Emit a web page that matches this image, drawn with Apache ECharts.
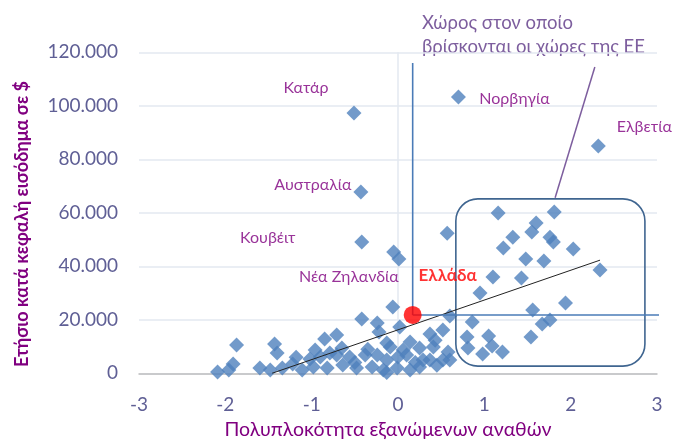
<!DOCTYPE html>
<html><head><meta charset="utf-8">
<script src="https://cdn.jsdelivr.net/npm/echarts@6/dist/echarts.min.js"></script>
<style>html,body{margin:0;padding:0;background:#fff}#c{width:677px;height:441px}</style>
</head><body><div id="c"></div>
<script>
// ---- data ----
const xTickValues = [-3, -2, -1, 0, 1, 2, 3];
const yTickValues = [0, 20000, 40000, 60000, 80000, 100000, 120000];

// other countries (complexity, income per capita)
const otherX = [
  -0.05, 0.57, 1.16, 1.81, 1.60, 1.55, 1.33, 1.22, 1.76, 1.80, 2.03, 1.48, 1.69, 2.34,
  1.10, 1.43, 0.95, 1.94, 1.56, 1.67, 1.76, 1.54, 1.05, -0.06, 0.60, 0.86, 0.52, 0.37,
  0.43, 0.80, 1.09, 0.98, 1.21, 0.81, 0.58, 0.52, 0.37, 0.25, 0.14, 0.25, 0.41, 0.06,
  -0.13, -0.42, -0.24, -0.22, 0.02, -0.71, -0.85, -0.09, -0.90, -0.71, -0.56, -0.38, -0.24,
  -0.13, 0.00, 0.10, -0.98, -0.82, -0.64, -0.48, -0.30, -0.17, -0.01, 0.14, -0.13, -0.79,
  -1.87, -2.09, -1.91, -1.96, -1.60, -1.43, -1.40, -1.48, -1.34, -1.22, -1.11, -1.02, -0.96,
  0.29, 0.60, -0.50, -0.35, 0.20, -0.65, -1.18, 0.45
];
const otherY = [
  45300, 52400, 59900, 60300, 56200, 52800, 50900, 46800, 50900, 49100, 46500, 42700, 42000, 38600,
  36000, 35600, 30000, 26300, 23700, 18400, 19900, 13600, 13900, 24800, 21400, 19200, 16200, 14700,
  12400, 13600, 10200, 7200, 8000, 9500, 8000, 5000, 5000, 2400, 11700, 9500, 9800, 8700,
  11300, 20300, 18800, 15400, 17300, 14300, 12800, 9800, 6100, 6800, 6100, 6800, 6800,
  5000, 6100, 6800, 2400, 2000, 3100, 2000, 2400, 1200, 2000, 1200, 300, 7600,
  10600, 500, 3500, 1200, 2000, 11000, 7600, 1200, 2000, 3500, 1200, 5300, 8700,
  5000, 5000, 4000, 9000, 4000, 9500, 6000, 3000
];

// labelled countries
const namedNames = ['Κατάρ', 'Νορβηγία', 'Ελβετία', 'Αυστραλία', 'Κουβέιτ', 'Νέα Ζηλανδία'];
const namedX = [-0.51, 0.70, 2.32, -0.43, -0.42, 0.01];
const namedY = [97300, 103300, 85000, 67800, 49100, 42700];

// Greece
const greeceName = 'Ελλάδα';
const greeceX = 0.17;
const greeceY = 21800;

// trend line end points
const trendX = [-1.46, 2.34];
const trendY = [0, 42300];

// EU region box (x range, y range) and callout
const euBoxX = [0.67, 2.86];
const euBoxY = [2700, 65200];
const calloutX = [2.28, 1.82];
const calloutY = [114500, 65600];
const greeceGuideTopY = 116000;
const greeceGuideRightX = 3.25;

const euText = ['Χώρος στον οποίο', 'βρίσκονται οι χώρες της ΕΕ'];
const xTitle = 'Πολυπλοκότητα εξανώμενων αναθών';
const yTitle = 'Ετήσιο κατά κεφαλή εισόδημα σε $';

// ---- styles ----
const FONT = 'Lato';
const BLUE = '#4f81bd';
const PURPLE = '#800080';
const labelOffsets = [[-48, -25], [56, 2], [46, -19], [-48, -7], [-94, -4], [-50, 18]];

const fmt = v => String(v).replace(/\B(?=(\d{3})+(?!\d))/g, '.');

const otherData = otherX.map((x, i) => [x, otherY[i]]);
const namedData = namedX.map((x, i) => ({
  value: [x, namedY[i]],
  label: {
    show: true, formatter: namedNames[i], position: 'inside',
    offset: labelOffsets[i], color: PURPLE, fontFamily: FONT, fontSize: 16
  }
}));

const chart = echarts.init(document.getElementById('c'));
chart.setOption({
  animation: false,
  grid: { left: 139, right: 20, top: 52.3, bottom: 67.7 },
  xAxis: {
    type: 'value', min: -3, max: 3, interval: 1,
    axisLine: { onZero: true, lineStyle: { color: '#bfbfbf', width: 1.5 } },
    axisTick: { show: false },
    splitLine: { show: false },
    axisLabel: { color: '#5f5f95', fontFamily: FONT, fontSize: 19, margin: 22,
      customValues: xTickValues }
  },
  yAxis: {
    type: 'value', min: 0, max: 120000, interval: 20000,
    axisLine: { show: false }, axisTick: { show: false },
    splitLine: { lineStyle: { color: '#e3e9f1', width: 1.5 } },
    axisLabel: { color: '#5f5f95', fontFamily: FONT, fontSize: 19, margin: 21,
      formatter: v => fmt(v) }
  },
  graphic: [
    { type: 'text', left: 422, top: 14, style: { text: euText[0], fill: '#7d5e9e', font: '18.5px ' + FONT } },
    { type: 'text', left: 422, top: 38, style: { text: euText[1], fill: '#7d5e9e', font: '18.5px ' + FONT } },
    { type: 'text', x: 388, y: 430, style: { text: xTitle, fill: PURPLE, font: '19.5px ' + FONT, align: 'center', verticalAlign: 'middle' } },
    { type: 'text', x: 22, y: 224, rotation: Math.PI / 2, style: { text: yTitle, fill: PURPLE, font: 'bold 18px ' + FONT, align: 'center', verticalAlign: 'middle' } }
  ],
  series: [
    { type: 'line', silent: true, symbol: 'none', z: 1,
      data: [[0, 0], [0, 120000]], lineStyle: { color: '#e3e9f1', width: 1.5 } },
    { type: 'scatter', symbol: 'diamond', symbolSize: 15, z: 2,
      itemStyle: { color: BLUE }, data: otherData },
    { type: 'scatter', symbol: 'diamond', symbolSize: 15, z: 2,
      itemStyle: { color: BLUE }, data: namedData },
    { type: 'line', silent: true, symbol: 'none', z: 3,
      data: trendX.map((x, i) => [x, trendY[i]]), lineStyle: { color: '#222', width: 1 } },
    { type: 'custom', silent: true, clip: false, z: 3,
      data: [[euBoxX[0], euBoxY[0], euBoxX[1], euBoxY[1]]],
      encode: { x: [0, 2], y: [1, 3] },
      renderItem: (params, api) => {
        const a = api.coord([api.value(0), api.value(3)]);
        const b = api.coord([api.value(2), api.value(1)]);
        return { type: 'rect', shape: { x: a[0], y: a[1], width: b[0] - a[0], height: b[1] - a[1], r: 22 },
          style: { fill: 'none', stroke: '#3f6590', lineWidth: 1.6 } };
      } },
    { type: 'line', silent: true, symbol: 'none', z: 3, clip: false,
      data: calloutX.map((x, i) => [x, calloutY[i]]), lineStyle: { color: '#7d5e9e', width: 1.5 } },
    { type: 'line', silent: true, symbol: 'none', z: 3, clip: false,
      data: [[greeceX, greeceGuideTopY], [greeceX, greeceY]], lineStyle: { color: '#4a7bb7', width: 1.6 } },
    { type: 'line', silent: true, symbol: 'none', z: 3, clip: false,
      data: [[greeceX, greeceY], [greeceGuideRightX, greeceY]], lineStyle: { color: '#4a7bb7', width: 1.6 } },
    { type: 'scatter', symbol: 'circle', symbolSize: 18, z: 5,
      itemStyle: { color: '#ff0000' },
      data: [{ value: [greeceX, greeceY], label: { show: true, formatter: greeceName, position: 'inside',
        offset: [35, -39], color: '#ff0000', fontWeight: 'bold', fontFamily: FONT, fontSize: 17 } }] }
  ]
});
</script>
</body></html>
